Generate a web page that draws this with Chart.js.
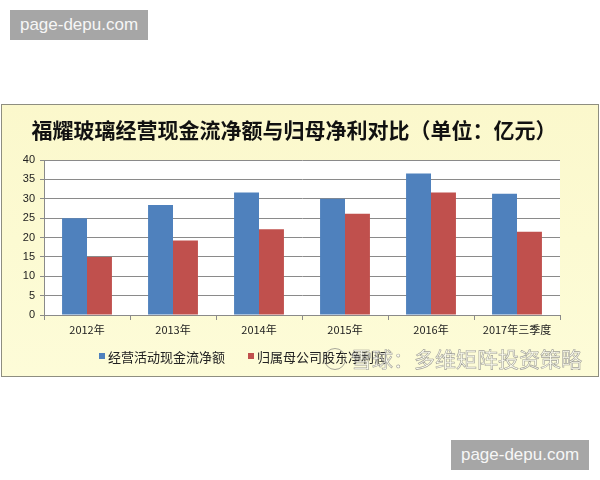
<!DOCTYPE html>
<html><head><meta charset="utf-8">
<script src="https://cdn.jsdelivr.net/npm/chart.js@4/dist/chart.umd.min.js"></script>
<style>
body{margin:0;width:600px;height:480px;background:#fff;position:relative;overflow:hidden}
#frame{position:absolute;left:1px;top:104px;width:598px;height:273px;border:1px solid #8e8e80;box-sizing:border-box;background:linear-gradient(180deg,#fbf8cc,#fdfcd8)}
#c{position:absolute;left:0;top:0}
.wm{position:absolute;background:#a6a6a6;color:#f6f6f6;font-family:'Liberation Sans',Arial,sans-serif;font-size:17px;line-height:30px;text-align:center}
#wm1{left:10px;top:10px;width:138px;height:30px}
#wm2{left:451px;top:440px;width:138px;height:30px}
#xq{position:absolute;left:324px;top:343px;font-family:'Noto Sans CJK SC',sans-serif;font-size:21px;line-height:30px;color:rgba(255,255,255,0.6);-webkit-text-stroke:0.6px rgba(120,120,120,0.7);white-space:nowrap}
#xq .logo{display:inline-block;width:22px;height:22px;border:1.5px solid rgba(120,120,120,0.65);border-radius:50%;vertical-align:-3px;margin-right:5px;box-sizing:border-box}
</style></head>
<body>
<div id="frame"></div>
<canvas id="c" width="600" height="480"></canvas>
<div class="wm" id="wm1">page-depu.com</div>
<div class="wm" id="wm2">page-depu.com</div>
<div id="xq"><span class="logo"></span>雪球：多维矩阵投资策略</div>
<script>
const chartTitle = '福耀玻璃经营现金流净额与归母净利对比（单位：亿元）';
const categories = ['2012年','2013年','2014年','2015年','2016年','2017年三季度'];
const seriesNames = ['经营活动现金流净额','归属母公司股东净利润'];
const cashFlow = [25.0, 28.4, 31.6, 30.0, 36.5, 31.3];
const netProfit = [15.0, 19.2, 22.1, 26.1, 31.6, 21.5];
const seriesColors = ['#4f81bd','#c0504d'];
const yMin = 0, yMax = 40, yStep = 5;

const plotBg = {
  id:'plotBg',
  beforeDraw(chart){
    const {ctx, chartArea:a} = chart;
    ctx.save(); ctx.fillStyle='#ffffff';
    ctx.fillRect(a.left, a.top, a.right-a.left, a.bottom-a.top);
    ctx.restore();
  }
};
const customLegend = {
  id:'customLegend',
  afterDraw(chart){
    const ctx = chart.ctx;
    const xs = [99, 248];
    const y = 356;
    ctx.save();
    ctx.font = "13px 'Noto Sans CJK SC', sans-serif";
    ctx.textBaseline = 'middle';
    chart.data.datasets.forEach((ds,i)=>{
      ctx.fillStyle = ds.backgroundColor;
      ctx.fillRect(xs[i], y-3, 6, 6);
      ctx.fillStyle = '#222';
      ctx.fillText(ds.label, xs[i]+9, y+1);
    });
    ctx.restore();
  }
};

new Chart(document.getElementById('c'), {
  type:'bar',
  data:{
    labels: categories,
    datasets:[
      {label: seriesNames[0], data: cashFlow, backgroundColor: seriesColors[0], yAxisID:'y'},
      {label: seriesNames[1], data: netProfit, backgroundColor: seriesColors[1], yAxisID:'y'}
    ]
  },
  options:{
    responsive:false, animation:false, devicePixelRatio:1,
    categoryPercentage:0.58, barPercentage:1,
    layout:{padding:{left:0,right:12,top:0,bottom:135}},
    plugins:{
      legend:{display:false},
      tooltip:{enabled:false},
      title:{display:true, text: chartTitle, color:'#111',
        font:{family:"'Noto Sans CJK SC', sans-serif", size:21, weight:'bold', lineHeight:1.2},
        padding:{top:117, bottom:17.8}}
    },
    scales:{
      x:{
        grid:{drawOnChartArea:false, drawTicks:true, tickLength:5, color:'#8a8a8a'},
        border:{color:'#8a8a8a'},
        ticks:{color:'#222', font:{family:"'Noto Sans CJK SC', sans-serif", size:11}, padding:3, maxRotation:0},
        afterFit(s){ s.height = 30; }
      },
      y:{
        min:yMin, max:yMax,
        grid:{color:'#8a8a8a', tickLength:4},
        border:{color:'#8a8a8a'},
        ticks:{stepSize:yStep, color:'#222', font:{family:"'Liberation Sans', Arial, sans-serif", size:11}, padding:5},
        afterFit(s){ s.width = 44; }
      },
      y2:{
        position:'right', display:true,
        grid:{display:false}, border:{display:false},
        ticks:{display:false},
        afterFit(s){ s.width = 28; }
      }
    }
  },
  plugins:[plotBg, customLegend]
});
</script>
</body></html>
